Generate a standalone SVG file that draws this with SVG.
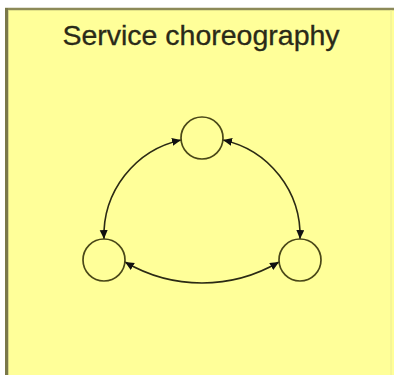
<svg xmlns="http://www.w3.org/2000/svg" width="394" height="375" viewBox="0 0 394 375">
  <style>
    .node { fill: #FFFF99; stroke: #4a4818; stroke-width: 1.7; }
    .conn { fill: none; stroke: #2b2a14; stroke-width: 1.6; marker-start: url(#arrow); marker-end: url(#arrow); }
    .title { font-family: "Liberation Sans", Arial, sans-serif; font-size: 28.5px; fill: #2a2a18; text-anchor: middle; stroke: #2a2a18; stroke-width: 0.3; }
  </style>
  <defs>
    <marker id="arrow" markerUnits="userSpaceOnUse" markerWidth="10" markerHeight="9" refX="9" refY="4" orient="auto-start-reverse">
      <path d="M0,0 L9,4 L0,8 z" fill="#111"/>
    </marker>
  </defs>
  <rect x="0" y="0" width="394" height="375" fill="#ffffff"/>
  <g id="frame">
    <rect x="5" y="8" width="389" height="370" fill="#FFFF99"/>
    <line x1="5" y1="9" x2="394" y2="9" stroke="#8c8a58" stroke-width="2.4"/>
    <line x1="6.5" y1="8" x2="6.5" y2="375" stroke="#7a784a" stroke-width="3"/>
    <line x1="8.5" y1="10" x2="8.5" y2="375" stroke="#d8d68a" stroke-width="1"/>
    <line x1="391" y1="10" x2="391" y2="375" stroke="#ecec98" stroke-width="1"/>
    <text class="title" x="201" y="45">Service choreography</text>
  </g>
  <g id="connectors">
    <path class="conn" d="M 181 140 A 98 98 0 0 0 104 239"/>
    <path class="conn" d="M 223 140 A 98 98 0 0 1 300 239"/>
    <path class="conn" d="M 125 262 A 152 152 0 0 0 279 262"/>
  </g>
  <g id="node-top"><circle class="node" cx="202" cy="138" r="21"/></g>
  <g id="node-left"><circle class="node" cx="104" cy="260" r="21"/></g>
  <g id="node-right"><circle class="node" cx="300" cy="260" r="21"/></g>
</svg>
